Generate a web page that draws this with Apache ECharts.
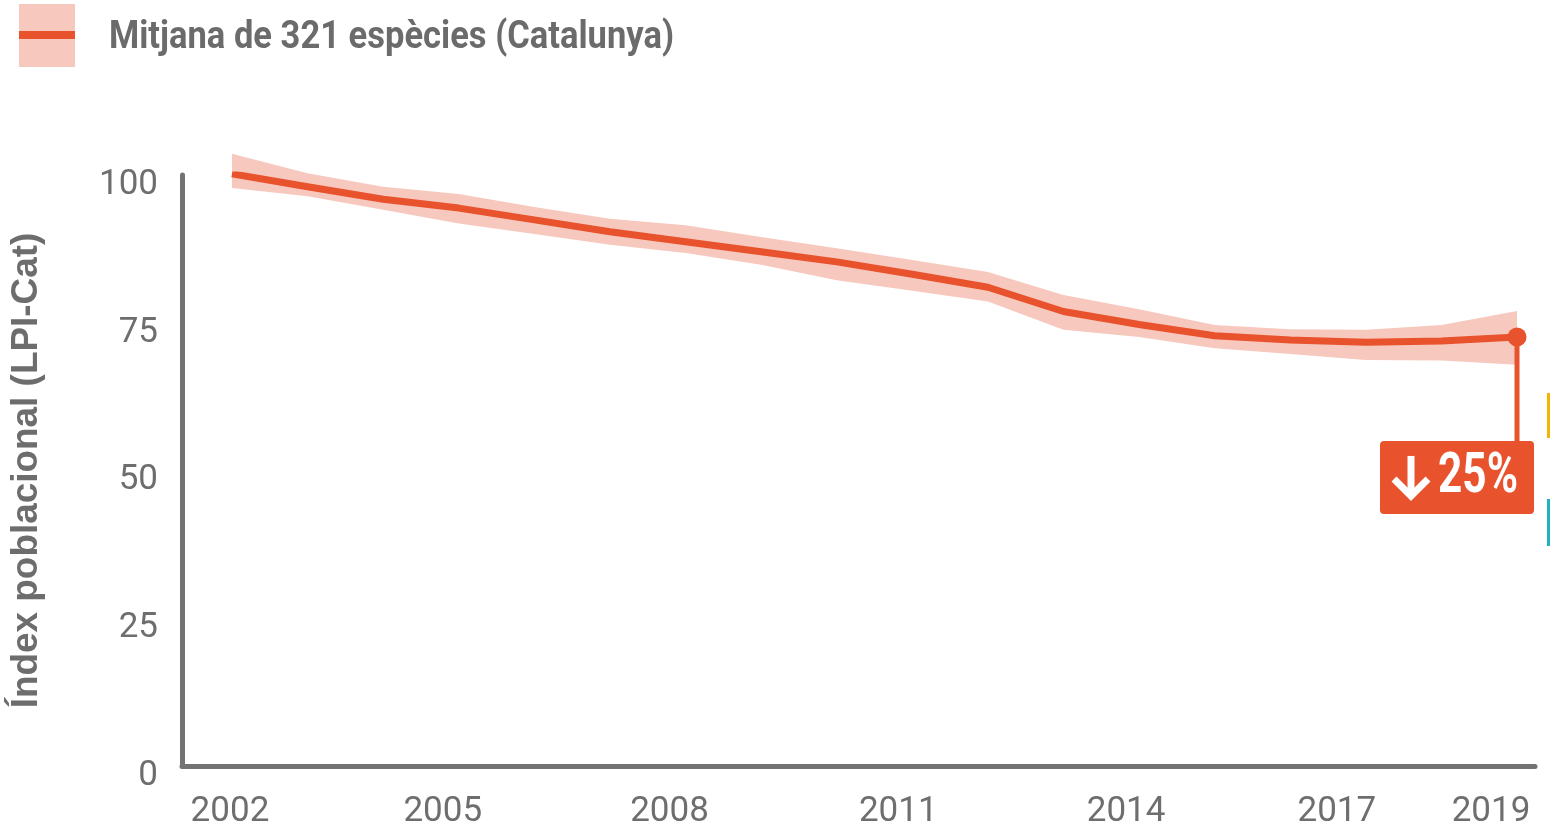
<!DOCTYPE html>
<html><head><meta charset="utf-8">
<script src="https://cdn.jsdelivr.net/npm/echarts@6/dist/echarts.min.js"></script>
<style>html,body{margin:0;padding:0;background:#fff}#c{width:1555px;height:826px}</style>
</head><body><div id="c"></div>
<script>
// ---------- data ----------
const years = [2002,2003,2004,2005,2006,2007,2008,2009,2010,2011,2012,2013,2014,2015,2016,2017,2018,2019];
const lpiMean  = [100.2, 98.0, 95.9, 94.4, 92.4, 90.4, 88.7, 87.0, 85.3, 83.2, 81.0, 76.9, 74.7, 72.8, 72.1, 71.7, 71.9, 72.6];
const lpiUpper = [103.6,100.3, 98.0, 96.8, 94.6, 92.6, 91.5, 89.5, 87.6, 85.6, 83.6, 79.7, 77.3, 74.6, 73.9, 73.8, 74.6, 77.0];
const lpiLower = [ 97.8, 96.4, 94.1, 91.8, 90.0, 88.2, 86.8, 84.8, 82.2, 80.4, 78.6, 73.8, 72.6, 70.7, 69.7, 68.7, 68.6, 67.9];
const xTickYears = [2002,2005,2008,2011,2014,2017,2019];
const yTickValues = [0,25,50,75,100];
const legendLabel = 'Mitjana de 321 espècies (Catalunya)';
const yAxisTitle = 'Índex poblacional (LPI-Cat)';
const changeLabel = '25%';

// ---------- style ----------
const RED = '#e8522d', BAND = '#f7c9be', AXIS = '#737373', TXT = '#6e6e6e';
const xLabelShift = [-2,-16,-16,-14,-13,-29,-26]; // label nudges (px) per tick

function textWidth(str, font){
  const c = document.createElement('canvas').getContext('2d');
  c.font = font; return c.measureText(str).width;
}

const xRich = {};
xTickYears.forEach((y,i)=>{
  const s = xLabelShift[i];
  xRich['s'+i] = {fontFamily:'Roboto', fontSize:35, color:TXT,
    padding: s < 0 ? [0, -2*s, 0, 0] : [0, 0, 0, 2*s]};
});

const yNameSize = 35 * 476 / textWidth(yAxisTitle, 'bold 35px "Liberation Sans"');

const chart = echarts.init(document.getElementById('c'), null, {renderer:'canvas'});
const last = years.length - 1;

chart.setOption({
  animation:false,
  backgroundColor:'#fff',
  grid:{left:182, right:20, top:175, bottom:60, containLabel:false, outerBoundsMode:'none'},
  xAxis:{
    type:'value', min:2001.339, max:2019.238,
    splitLine:{show:false}, axisTick:{show:false},
    axisLine:{show:true, onZero:false, lineStyle:{color:AXIS, width:5}},
    axisLabel:{
      customValues: xTickYears, margin:29,
      formatter: v => { const i = xTickYears.indexOf(v); return '{s'+i+'|'+v+'}'; },
      rich: xRich
    }
  },
  yAxis:{
    type:'value', min:0, max:100, interval:25,
    splitLine:{show:false}, axisTick:{show:false},
    axisLine:{show:true, lineStyle:{color:AXIS, width:5}},
    axisLabel:{fontFamily:'Roboto', fontSize:35, color:TXT, margin:24,
      verticalAlign:'top', lineHeight:20, customValues: yTickValues},
    name: yAxisTitle, nameLocation:'middle', nameGap:137, nameRotate:90,
    nameTextStyle:{fontFamily:'Liberation Sans', fontWeight:'bold', fontSize:yNameSize, color:'#6d6d6d'}
  },
  series:[
    {
      type:'custom', silent:true, z:1, clip:false,
      data: years.map((y,i)=>[y, lpiLower[i], lpiUpper[i]]),
      encode:{x:0, y:[1,2]},
      renderItem(params, api){
        if (params.dataIndex !== 0) return null;
        const top = years.map((y,i)=>api.coord([y, lpiUpper[i]]));
        const bot = years.map((y,i)=>api.coord([y, lpiLower[i]])).reverse();
        return {type:'polygon', shape:{points: top.concat(bot)}, style:{fill:BAND}};
      }
    },
    {
      type:'line', silent:true, z:3,
      data: years.map((y,i)=>[y, lpiMean[i]]),
      symbol:'circle',
      symbolSize:(v, p) => p.dataIndex === last ? 19 : 0,
      showAllSymbol:true,
      lineStyle:{color:RED, width:7, join:'round'},
      itemStyle:{color:RED, borderWidth:0}
    }
  ]
});

// ---------- annotations ----------
const p = chart.convertToPixel({gridIndex:0}, [years[last], lpiMean[last]]);
const boxL = p[0] - 137, boxT = p[1] + 104, boxW = 154, boxH = 73;

const legendFont = 'bold 38px Roboto';
const legendScale = 565 / textWidth(legendLabel, legendFont);
const chgFont = 'bold 55px Roboto';
const chgScale = 80 / textWidth(changeLabel, chgFont);

chart.setOption({
  graphic:[
    {type:'rect', shape:{x:19, y:4, width:56, height:63}, style:{fill:BAND}, silent:true},
    {type:'rect', shape:{x:19, y:31, width:56, height:8}, style:{fill:RED}, silent:true},
    {type:'text', x:109, y:38, scaleX:legendScale, silent:true,
      style:{text:legendLabel, font:legendFont, fill:'#6b6b6b', align:'left', verticalAlign:'middle'}},
    {type:'line', shape:{x1:p[0], y1:p[1], x2:p[0], y2:boxT+2}, style:{stroke:RED, lineWidth:5}, silent:true, z:1},
    {type:'rect', shape:{x:boxL, y:boxT, width:boxW, height:boxH, r:4}, style:{fill:RED}, silent:true, z:5},
    {type:'polyline', shape:{points:[[boxL+31, boxT+15],[boxL+31, boxT+54]]},
      style:{stroke:'#fff', lineWidth:7, fill:null}, silent:true, z:6},
    {type:'polyline', shape:{points:[[boxL+14, boxT+38],[boxL+31, boxT+55],[boxL+48, boxT+38]]},
      style:{stroke:'#fff', lineWidth:7, fill:null, lineJoin:'miter'}, silent:true, z:6},
    {type:'text', x:boxL+58, y:boxT+37, scaleX:chgScale, silent:true, z:6,
      style:{text:changeLabel, font:chgFont, fill:'#fff', align:'left', verticalAlign:'middle'}},
    {type:'rect', shape:{x:1547, y:393, width:3, height:45}, style:{fill:'#f4b400'}, silent:true},
    {type:'rect', shape:{x:1547, y:499, width:3, height:47}, style:{fill:'#22b1c0'}, silent:true}
  ]
});
</script></body></html>
